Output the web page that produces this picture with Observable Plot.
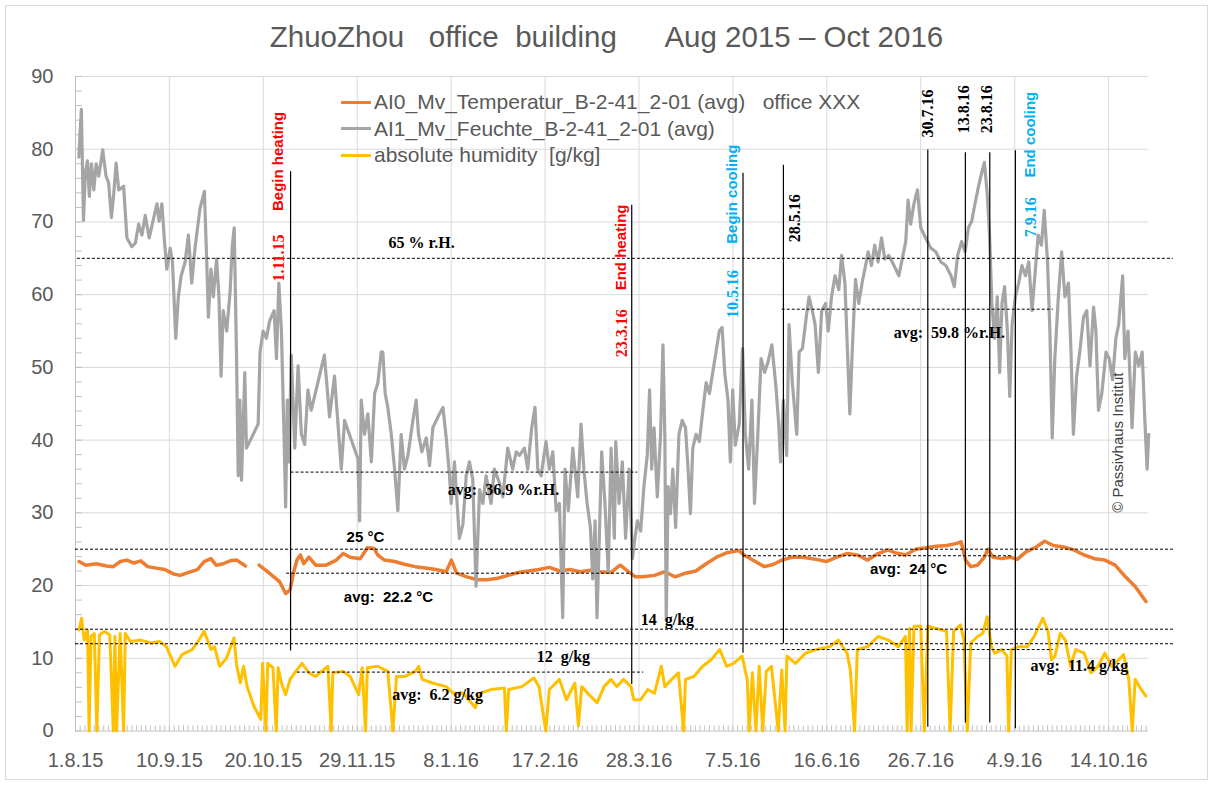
<!DOCTYPE html>
<html><head><meta charset="utf-8">
<script src="https://cdn.jsdelivr.net/npm/d3@7"></script>
<script src="https://cdn.jsdelivr.net/npm/@observablehq/plot@0.6"></script>
<style>
body{margin:0;background:#fff;}
#wrap{position:relative;width:1213px;height:785px;overflow:hidden;background:#fff;}
#frame{position:absolute;left:5px;top:5px;width:1201px;height:773px;border:1px solid #d9d9d9;}
#title{position:absolute;top:20px;left:0;width:1213px;text-align:center;font:29.5px 'Liberation Sans',Arial,sans-serif;color:#595959;white-space:pre;}
#legend{position:absolute;left:341px;top:89px;font:21px 'Liberation Sans',Arial,sans-serif;color:#595959;}
.row{display:flex;align-items:center;height:26.5px;white-space:pre;}
.sw{width:30px;height:3px;margin-right:3px;}
#chart svg{position:absolute;left:0;top:0;}
</style></head>
<body>
<div id="wrap">
<div id="frame"></div>
<div id="chart"></div>
<div id="title">ZhuoZhou   office  building      Aug 2015 – Oct 2016</div>
<div id="legend"></div>
</div>
<script>
// ---- data (x = days since 1.8.15, y = value) ----
const startDate = "2015-08-01";
const endDay = 457;
const xTickLabels = ["2015-08-01","2015-09-10","2015-10-20","2015-11-29","2016-01-08","2016-02-17","2016-03-28","2016-05-07","2016-06-16","2016-07-26","2016-09-04","2016-10-14"];
const yTicks = [0,10,20,30,40,50,60,70,80,90];
const seriesNames = ["AI0_Mv_Temperatur_B-2-41_2-01 (avg)   office XXX","AI1_Mv_Feuchte_B-2-41_2-01 (avg)","absolute humidity  [g/kg]"];
const seriesColors = ["#ed7d31","#a5a5a5","#ffc000"];

// relative humidity [%]
const rh = [[1.4,78.9],[2.5,85.5],[3.4,70.2],[4.2,76.8],[5.1,78.4],[5.9,73.5],[6.8,78],[7.8,74.4],[8.8,78],[9.9,76.3],[11.6,79.9],[13,76.3],[14.1,75.4],[15.3,70.6],[16.3,73.9],[17.3,78.1],[18.4,74.4],[20.5,74.9],[21.9,67.8],[24,66.6],[25.5,67.1],[26.9,69.7],[28.3,68.2],[29.7,70.9],[31.4,67.8],[33.2,70.4],[34.7,72.5],[35.6,70.1],[36.8,72.5],[37.9,67.3],[38.9,63.5],[40.3,66.4],[41.3,64.5],[42.7,54],[43.8,59.7],[45,62.6],[46.7,64.5],[48.1,68.2],[49.5,61.6],[50.9,66.4],[53,71.8],[54.9,74.2],[55.9,64.5],[56.6,56.9],[57.7,63.5],[58.7,59.7],[60.1,64.9],[61.1,59.7],[62,48.8],[62.9,57.8],[64.4,55],[65.8,60.2],[66.8,66.8],[67.6,69.2],[68.6,51.2],[69.3,35.1],[70,45.5],[70.7,34.5],[72.1,49.3],[72.8,38.9],[77.8,42.2],[78.6,52.1],[79.9,55],[81.3,54],[82.7,56.4],[84.6,57.8],[85.6,51.2],[86.6,61.6],[87.7,55],[88.8,40.8],[89.5,30.8],[90.2,45.5],[90.9,37],[91.9,51.7],[93.4,38.9],[94.8,50.2],[96.2,40.8],[97.6,39.4],[99,46.9],[100.4,44.1],[106,51.7],[108.2,43.2],[110.3,48.8],[113.2,36],
[114.6,42.7],[120.3,37.4],[121,28.9],[121.7,45.5],[123.1,40.8],[124.5,43.6],[126,37],[127.4,46.4],[128.8,47.9],[130.2,52.1],[130.9,52.1],[131.9,46.4],[133,44.5],[134.5,40.8],[135.9,36],[137.3,30.3],[138.7,40.8],[140.1,36],[141.6,37.9],[143.7,42.7],[145.1,45.5],[146.1,40.8],[147.5,38.4],[149.4,40.3],[150.8,36.5],[152.2,41.7],[155,43.6],[156.5,44.5],[157.9,40.3],[159.3,35.1],[160,31.3],[161.4,37],[163.5,26.5],[165,28.4],[166.4,35.1],[167.8,37],[169.2,34.6],[170.6,19.9],[172.1,33.2],[173.5,31.3],[174.9,35.1],[177,31.3],[178.4,36],[180.6,34.1],[182,32.2],[184.1,38.9],[186.2,36],[187.7,38.4],[189.1,37.9],[191.2,38.9],[192.6,36],[194.3,41.7],[195.7,44.5],[196.9,36],[198.3,35.1],[200.4,39.8],[201.8,36],[203.3,38.4],[204.7,30.3],[206.1,31.3],[207.5,15.6],[208.5,36],[209.9,30.3],[211.8,38.9],[213.9,32.2],[215.3,42.2],[216.5,36],[217.9,31.3],[219.3,28],[220.3,20.9],[221.3,28.9],[222.1,15.6],[223.1,26.5],[224.1,38.4],[225.5,31.3],[226.9,21.8],[228.1,38.9],[229.5,26.5],
[230.1,39.8],[231.5,31.3],[232.9,37],[234.3,26.5],[235.8,36],[237.2,23.7],[237.9,25.6],[239.3,28.9],[240.7,27.5],[242.1,33.6],[243.5,37.9],[244.5,46.9],[245.4,36],[246.4,41.7],[247.8,32.2],[249.2,40.8],[250.2,53.1],[251,40.8],[251.6,15.2],[252.4,33.6],[253.4,29.9],[254.4,36],[255.6,28],[257,40.8],[258.4,42.7],[259.8,41.7],[260.9,36],[261.9,29.9],[262.9,38.9],[264.3,40.8],[265.7,39.8],[267.2,44.1],[268.6,47.9],[270,46.4],[271.4,49.3],[272.8,52.1],[274.2,55],[275.4,55.5],[276.5,49.3],[277.9,45.5],[278.9,37],[279.9,46.9],[281,39.3],[282.7,42.2],[284.1,52.6],[285.3,40.8],[286.7,36],[288.1,45.5],[289.2,31.3],[290.6,40.8],[292,51.2],[293.5,49.3],[294.9,50.7],[296.6,53.1],[298.3,47.4],[299.4,42.7],[300.3,37],[301.5,45.5],[302.9,37.9],[303.9,55.9],[305.3,47.9],[307.2,40.8],[308.2,52.1],[309.6,52.6],[311.4,57.3],[312.4,59.7],[313.8,57.8],[315,55.9],[316.4,49.3],[317.8,57.8],[319.5,58.8],[320.6,55],[322,59.7],[323.5,62.6],[325.1,60.7],[326.3,65.4],[327.7,61.6],[328.8,52.1],[329.8,43.6],[330.8,52.1],[332.2,62.1],[333.6,58.8],[335,61.6],[336.5,64],[337.6,65.9],[339,64],[340.4,66.8],[341.8,64.5],[343.3,67.8],[344.7,64.9],
[346.4,65.4],[348.6,64],[350.7,62.6],[352.1,64.9],[353.6,67.3],[354.6,73],[355.7,69.7],[357.1,72.5],[358.6,74.4],[360,69.2],[362.1,67.8],[364.3,66.4],[366.4,65.9],[368.6,64.5],[370.7,64],[372.9,62.6],[374.3,61.1],[375.7,65.4],[377.4,67.3],[378.9,65.9],[380.3,69.2],[381.7,70.1],[383.1,72.5],[384.6,74.9],[386,76.8],[387.1,78.2],[388.3,73.9],[389.3,68.2],[390.3,58.8],[391.4,54],[392.6,59.7],[393.6,49.3],[394.6,58.8],[395.7,61.1],[396.9,55],[397.9,46],[398.9,55.9],[400.3,59.7],[401.7,61.6],[403.1,64],[404.6,62.6],[406,64.5],[407.4,57.8],[408.6,62.6],[410,68.2],[411.4,66.8],[412.6,71.6],[414,64.5],[415,55],[416,40.3],[417.1,51.2],[418.6,59.7],[420,65.9],[421.4,59.7],[422.9,61.6],[424,52.1],[425,40.8],[426.4,48.8],[427.9,52.6],[429.3,56.9],[430.7,57.8],[432.1,50.2],[433.6,58.3],[434.6,55],[435.7,44.1],[437.1,46.4],[438.9,52.1],[440.3,51.2],[441.7,48.3],[443.1,54],[444.3,55.9],[446,62.6],[446.9,51.2],[448.3,55],[450,41.7],[451.4,52.1],[452.9,50.2],[454.3,52.1],[455.4,43.1],[456.4,36],[457.1,40.8]];

// temperature [°C]
const temp = [[1.5,23.3],[4.4,22.8],[8.8,23],[13.2,22.7],[16.1,22.6],[19,23.3],[21.9,23.5],[24.9,23.1],[27.8,23.4],[30.7,22.6],[34.4,22.4],[38,22.2],[41.7,21.6],[44.6,21.4],[48.2,21.8],[51.9,22.2],[54.8,23.3],[57.7,23.7],[59.9,22.8],[62.9,23],[65.8,23.4],[68.7,23.5],[72.4,22.7],[75,null],[78.2,22.8],[81.1,22.1],[84.1,21.3],[87,20.5],[89.5,18.9],[91.4,19.4],[92.8,21.7],[94.3,23.5],[95.8,24.2],[97.2,23],[99.4,23.9],[102.3,22.8],[106.7,22.8],[111.1,23.5],[114,24.4],[117,23.9],[121.3,23.7],[124.3,25.2],[127.2,25.1],[128.7,24.2],[131.6,23.5],[136,23.3],[140.4,22.9],[144.7,22.6],[149.1,22.4],[153.5,22.2],[157.9,21.9],[160.1,23.5],[162.3,21.7],[166.7,21.2],[171.1,20.8],[175.4,20.8],[179.8,21],[184.2,21.4],[188.6,21.8],[193,22],[197.4,22.2],[201.8,22.5],[206.2,22],[210.5,22.2],[214.9,21.9],[219.3,22.1],[223.7,21.9],[228.1,21.8],[232,22.8],[236.3,21.7],[238.5,21.2],[241.5,21.2],[246.6,21.4],[251,21.9],[255.4,21.2],[259.8,21.7],[264.2,22],[268.6,23],[273,23.9],[277.3,24.5],[282.5,24.8],[284.7,24.2],[289,23.4],[293.4,22.6],[297.1,22.9],[300.8,23.5],[305.2,23.9],[309.5,23.9],[315.4,23.6],[319.8,23.3],[324.2,23.9],[328.6,24.4],[333,24.2],[337.4,23.5],[341.8,24.4],[346.1,24.9],[349.1,24.5],[353.5,24.2],[357.9,25],[362.3,25.2],[366.7,25.4],[371,25.5],[375.4,25.8],[377.2,26],[379.1,23.5],[381.3,22.6],[384.2,22.8],[387.1,23.9],[388.6,25],[390.8,23.9],[394.5,23.7],[398.1,23.9],[401.1,23.6],[404.7,24.6],[409.1,25.3],[412.8,26.1],[416.5,25.5],[420.8,25.3],[425.2,24.9],[429.6,24.2],[434,23.7],[438.4,23.5],[442.8,22.8],[447.2,21.2],[451.5,19.8],[455.9,17.8]];

// absolute humidity [g/kg]
const ah = [[1.5,13.9],[2.6,15.5],[3.7,12.5],[5.1,13.9],[5.8,0],[6.6,13],[8,13.4],[9.1,0],[10.2,13.2],[12.4,13.7],[14.6,13.2],[16.1,0],[16.8,13],[17.5,0],[19,13.4],[20.5,0],[21.2,13.4],[23.4,12.3],[27.8,12.5],[32.2,12.1],[35.8,12.3],[38.7,11.6],[42.4,8.9],[45.3,10.5],[49.7,11.2],[52.6,12.5],[54.8,13.7],[57.7,11.2],[59.2,11.6],[61.4,8.9],[64.3,10],[67.5,12.8],[68.7,8.9],[70.2,6.6],[71.6,8.9],[73.1,6.1],[76,3.4],[78.9,1.6],[79.7,9.3],[81.1,0],[81.9,9.3],[84.1,8.7],[85.5,0],[86.3,8.7],[87.7,6.6],[89.5,5],[91.4,7.1],[94.3,8.4],[96.5,9.3],[99.4,8],[102.3,7.5],[107.5,8.9],[108.9,0],[109.6,8],[114,8.2],[117,7.5],[120.6,5],[122.1,8.7],[123.5,0],[124.3,8.7],[128.7,8.9],[133,8.2],[135.2,0],[136.7,7.5],[140.4,7.5],[144.7,8.2],[146.2,8.9],[147.7,7.1],[152,6.6],[157.9,6.1],[160.8,5.2],[165.2,5.2],[170.3,3.2],[172.5,5.2],[176.9,5.7],[182.7,5.9],[183.5,0],[184.5,5.7],[190.1,6.1],[195.2,7.3],[197.4,6.1],[200.3,0],[201.8,5.7],[206.1,7.1],[209.1,4.3],[212.7,6.6],[214.2,0.7],[215.6,6.1],[219.3,4.8],[222.2,3.9],[225.1,6.1],[228.1,7.1],[230.5,6.1],[233.4,7.1],[236.6,6.1],[237.8,4.3],[240.7,4.3],[243.7,5.7],[246.6,5.2],[249.5,8.9],[251,6.1],[253.9,7.1],[256.8,8],[259,0],[259.8,7.1],[263.4,7.5],[267.1,8.9],[270.7,9.8],[274.4,11.2],[277.3,8.9],[280.3,9.3],[283.9,10.3],[286.1,7.1],[286.9,0],[288.3,8],[289.8,0],[291.2,8.9],[292.7,0],[294.2,8.2],[296.4,8.9],[299.3,0],[300.8,8.4],[302.2,0],[303,10.3],[306.6,9.3],[311,10.7],[315.4,11.2],[321.3,11.6],[324.9,12.5],[328.6,10.7],[330,8.4],[331.8,0],[333,11.2],[337.4,11.6],[341.8,13],[346.1,12.5],[350.5,11.6],[353.5,13],[354.2,0],[355.2,14.1],[355.9,0],[357.1,14.4],[360,14.4],[361.5,0],[363,14.4],[366.6,14.1],[371,13.7],[372.5,0],[374,13.7],[376.9,14.6],[378.4,12.5],[379.8,0],[381.3,12.1],[384.2,13],[386.4,13.4],[388.3,15.7],[390.1,11.6],[391.5,10.7],[394.5,11.2],[396.7,10.3],[397.4,0],[398.6,11.2],[401.8,11.6],[405.4,11.6],[408.3,13],[412,15.5],[414.2,13.7],[415.7,9.8],[417.1,10.3],[419.4,13.4],[421.6,12.5],[423.8,8.9],[426,11.2],[429.6,10.7],[432.5,8],[435.5,8.9],[438.4,10.7],[441.3,8.9],[444.3,9.8],[446.4,10.5],[448.6,7.1],[450.1,0],[451.3,7.1],[453.5,5.9],[455.9,4.8]];

// reference lines (dashed): value, from day, to day
const refLines = [
  {v:65, from:0.8, to:467.6},{v:25, from:0, to:467.6},{v:14, from:0, to:467.6},{v:12, from:0, to:467.6},
  {v:35.6, from:91.8, to:239.5},{v:21.7, from:89.9, to:236.8},{v:24.1, from:284.5, to:399.5},
  {v:8.1, from:94.5, to:242},{v:11.2, from:301, to:416.5},{v:58, from:301, to:416.5}
];
// event lines (solid)
const events = [
  {day:91.6, y1:11, y2:76.9},{day:236.9, y1:6.4, y2:72.3},{day:284.3, y1:10.7, y2:76.7},{day:301.5, y1:12, y2:77.8},
  {day:363, y1:0.5, y2:79.9},{day:379, y1:1.1, y2:79.5},{day:389.4, y1:1.1, y2:79.5},{day:400.3, y1:0.3, y2:79.8}
];
const notesSerif = [
  {day:147.4, v:67.1, label:"65 % r.H."},{day:182.3, v:33.2, label:"avg:\u00a0 36.9 %r.H."},
  {day:252.1, v:15.3, label:"14\u00a0 g/kg"},{day:207.8, v:10.2, label:"12\u00a0 g/kg"},
  {day:154.2, v:4.9, label:"avg:\u00a0 6.2 g/kg"},{day:427.6, v:8.9, label:"avg:\u00a0 11.4 g/kg"},
  {day:372.2, v:54.7, label:"avg:\u00a0 59.8 %r.H."}
];
const notesSans = [
  {day:123.5, v:26.6, label:"25 °C"},{day:133.3, v:18.4, label:"avg:\u00a0 22.2 °C"},{day:354.8, v:22.3, label:"avg:\u00a0 24 °C"}
];
const eventDates = [
  {day:86.5, v:61.8, label:"1.11.15", color:"#ff0000"},{day:232.5, v:51.4, label:"23.3.16", color:"#ff0000"},
  {day:279.9, v:56.8, label:"10.5.16", color:"#00b0f0"},{day:306.6, v:67.2, label:"28.5.16", color:"#000000"},
  {day:363, v:81.6, label:"30.7.16", color:"#000000"},{day:378.3, v:82.2, label:"13.8.16", color:"#000000"},
  {day:388.3, v:82.2, label:"23.8.16", color:"#000000"},{day:406.7, v:67.9, label:"7.9.16", color:"#00b0f0"}
];
const eventNames = [
  {day:86.5, v:71.5, label:"Begin heating", color:"#ff0000"},{day:232.5, v:60.6, label:"End heating", color:"#ff0000"},
  {day:279.9, v:67, label:"Begin cooling", color:"#00b0f0"},{day:406.7, v:76.1, label:"End cooling", color:"#00b0f0"}
];
const copyright = [{day:444.3, v:30, label:"© Passivhaus Institut"}];

// ---- chart ----
const t0 = new Date(startDate + "T00:00:00Z");
const toDate = d => new Date(t0.getTime() + d * 864e5);
const xTicks = xTickLabels.map(s => new Date(s + "T00:00:00Z"));
const minorX = d3.range(0, endDay, 2).map(toDate);
const minorY = d3.range(0, 91, 2);
const fmt = d => `${d.getUTCDate()}.${d.getUTCMonth() + 1}.${String(d.getUTCFullYear() % 100)}`;
const X = d => toDate(d[0]), Y = d => d[1];
const serif = "'Liberation Serif', 'DejaVu Serif', serif";
const sans = "'Liberation Sans', Arial, sans-serif";

const chart = Plot.plot({
  width: 1213, height: 785,
  marginLeft: 75, marginRight: 65, marginTop: 76, marginBottom: 54.5,
  x: {type: "utc", domain: [t0, toDate(endDay)]},
  y: {domain: [0, 90]},
  color: {type: "identity"},
  style: {fontFamily: sans, background: "transparent", overflow: "visible"},
  marks: [
    Plot.gridY(yTicks.slice(1), {stroke: "#d9d9d9", strokeOpacity: 1}),
    Plot.gridX(xTicks.slice(1), {stroke: "#d9d9d9", strokeOpacity: 1}),
    Plot.ruleX(minorX, {y1: 0, y2: 0.7, stroke: "#bfbfbf"}),
    Plot.ruleY(minorY, {x1: t0, x2: toDate(2.9), stroke: "#bfbfbf"}),
    Plot.ruleY([0], {stroke: "#bfbfbf"}),
    Plot.ruleX([t0], {stroke: "#bfbfbf"}),
    Plot.axisY({ticks: yTicks, tickSize: 0, tickPadding: 22, fontSize: 20, color: "#595959", label: null}),
    Plot.axisX({ticks: xTicks, tickSize: 0, tickPadding: 22, fontSize: 20, color: "#595959", label: null, tickFormat: fmt}),
    Plot.line(temp, {x: X, y: Y, stroke: seriesColors[0], strokeWidth: 3.5, strokeLinejoin: "round"}),
    Plot.line(rh, {x: X, y: Y, stroke: seriesColors[1], strokeWidth: 3.2, strokeLinejoin: "round"}),
    Plot.line(ah, {x: X, y: Y, stroke: seriesColors[2], strokeWidth: 3, strokeLinejoin: "round"}),
    Plot.ruleY(refLines, {y: "v", x1: d => toDate(d.from), x2: d => toDate(d.to), stroke: "#000", strokeWidth: 1, strokeDasharray: "3,2"}),
    Plot.ruleX(events, {x: d => toDate(d.day), y1: "y1", y2: "y2", stroke: "#000", strokeWidth: 1.2}),
    Plot.text(notesSerif, {x: d => toDate(d.day), y: "v", text: "label", fontFamily: serif, fontWeight: "bold", fontSize: 16, fill: "#000"}),
    Plot.text(notesSans, {x: d => toDate(d.day), y: "v", text: "label", fontFamily: sans, fontWeight: "bold", fontSize: 15, fill: "#000"}),
    Plot.text(eventDates, {x: d => toDate(d.day), y: "v", text: "label", rotate: -90, textAnchor: "start", fontFamily: serif, fontWeight: "bold", fontSize: 16, fill: "color"}),
    Plot.text(eventNames, {x: d => toDate(d.day), y: "v", text: "label", rotate: -90, textAnchor: "start", fontFamily: sans, fontWeight: "bold", fontSize: 15, fill: "color"}),
    Plot.text(copyright, {x: d => toDate(d.day), y: "v", text: "label", rotate: -90, textAnchor: "start", fontFamily: sans, fontSize: 15, fill: "#404040"})
  ]
});
document.getElementById("chart").appendChild(chart);

const legend = document.getElementById("legend");
seriesNames.forEach((n, i) => {
  const row = document.createElement("div");
  row.className = "row";
  const sw = document.createElement("span");
  sw.className = "sw"; sw.style.background = seriesColors[i];
  const tx = document.createElement("span");
  tx.textContent = n;
  row.appendChild(sw); row.appendChild(tx);
  legend.appendChild(row);
});
</script>
</body></html>
